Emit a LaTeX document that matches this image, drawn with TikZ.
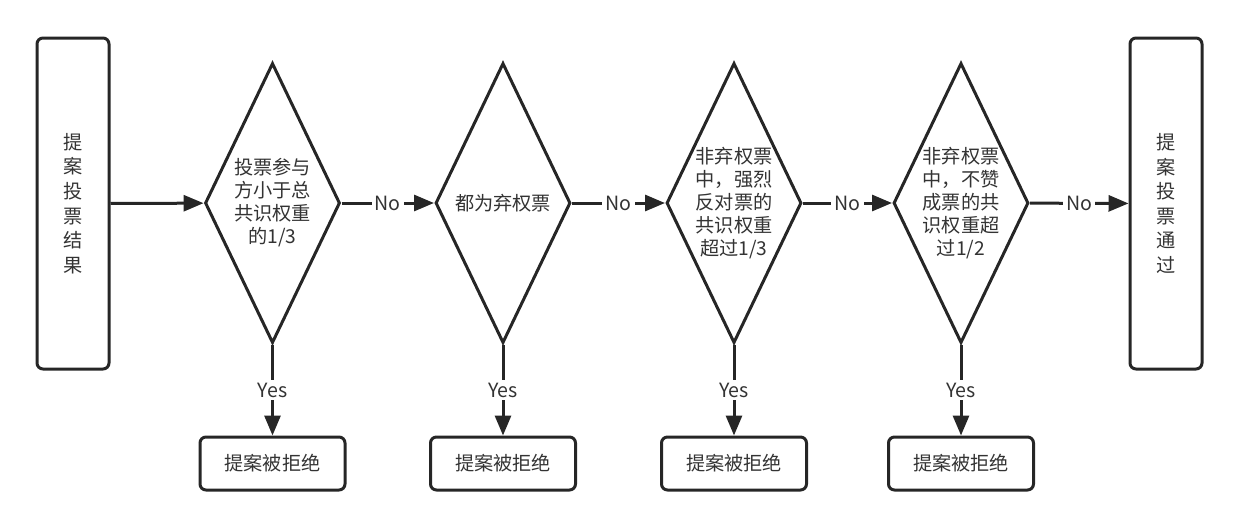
\documentclass[tikz,border=0pt]{standalone}
\usepackage{fontspec}
\setmainfont{Noto Sans CJK SC}
\usetikzlibrary{arrows.meta,positioning,shapes.geometric}

\begin{document}
\begin{tikzpicture}[x=0.5pt,y=-0.5pt]
\tikzstyle{decision} = [diamond, draw=black!85, line width=1.5pt,
minimum width=67.5pt, minimum height=140pt, inner sep=-8pt,
align=center, text=black!80, font=\fontsize{9.6}{11.5}\selectfont]

\tikzstyle{terminal} = [rectangle, draw=black!85, line width=1.5pt, rounded corners=3pt,
minimum width=36pt, minimum height=165.5pt, align=center, text=black!80,
font=\fontsize{9.6}{12.3}\selectfont]
\tikzstyle{reject} = [rectangle, draw=black!85, line width=1.5pt, rounded corners=3pt,
minimum width=72.5pt, minimum height=26.5pt, text=black!80, font=\fontsize{9.6}{11.5}\selectfont]
\tikzstyle{line} = [draw=black!85, line width=1.5pt, -{Triangle[length=10pt,width=8pt]}];
\tikzstyle{lbl} = [fill=white, inner sep=1.5pt, text=black!80, font=\fontsize{9.8}{11.5}\selectfont];
\useasboundingbox (0,0) rectangle (1241,527);

% main row
\node [terminal] (start) at (73,203.5) {提\\案\\投\\票\\结\\果};
\node [decision] (quorum) at (272.5,203) {投票参与\\方小于总\\共识权重\\的1/3};
\node [decision] (abstain) at (503,203) {都为弃权票};
\node [decision] (veto) at (734,203) {非弃权票\\中，强烈\\反对票的\\共识权重\\超过1/3};
\node [decision] (against) at (961,203) {非弃权票\\中，不赞\\成票的共\\识权重超\\过1/2};
\node [terminal] (pass) at (1166,203.5) {提\\案\\投\\票\\通\\过};
% rejected row
\node [reject, below=45.5pt of quorum] (rej1) {提案被拒绝};
\node [reject, below=45.5pt of abstain] (rej2) {提案被拒绝};
\node [reject, below=45.5pt of veto] (rej3) {提案被拒绝};
\node [reject, below=45.5pt of against] (rej4) {提案被拒绝};

\tikzstyle{every path}=[line]
\path (start) -- (quorum);
\path (quorum) -- node [lbl] {No} (abstain);
\path (abstain) -- node [lbl] {No} (veto);
\path (veto) -- node [lbl] {No} (against);
\path (against) -- node [lbl] {No} (pass);
\path (quorum) -- node [lbl] {Yes} (rej1);
\path (abstain) -- node [lbl] {Yes} (rej2);
\path (veto) -- node [lbl] {Yes} (rej3);
\path (against) -- node [lbl] {Yes} (rej4);

\end{tikzpicture}
\end{document}
